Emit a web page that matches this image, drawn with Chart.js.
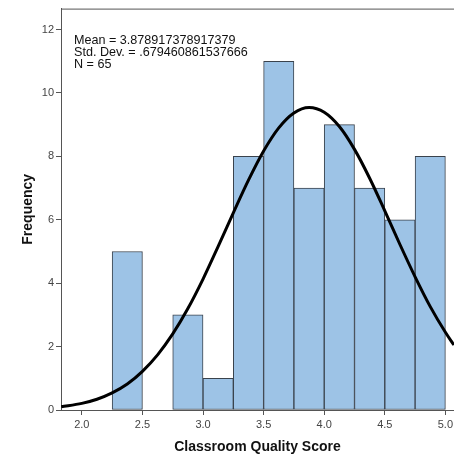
<!DOCTYPE html>
<html>
<head>
<meta charset="utf-8">
<script src="https://cdn.jsdelivr.net/npm/chart.js@4/dist/chart.umd.min.js"></script>
<style>
  html, body { margin: 0; padding: 0; background: #fff; }
  #wrap { width: 454px; height: 456px; }
</style>
</head>
<body>
<div id="wrap"><canvas id="hist" width="454" height="456"></canvas></div>
<script>
// Histograma - classes de 0.25
const binMids = [2.375, 2.625, 2.875, 3.125, 3.375, 3.625, 3.875, 4.125, 4.375, 4.625, 4.875];
const counts = [5, 0, 3, 1, 8, 11, 7, 9, 7, 6, 8];

// Curva normal
const curveX = [1.83, 2.0, 2.125, 2.25, 2.375, 2.5, 2.625, 2.75, 2.875, 3.0, 3.125, 3.25, 3.375, 3.5,
  3.625, 3.75, 3.875, 4.0, 4.125, 4.25, 4.375, 4.5, 4.625, 4.75, 4.875, 5.0, 5.07];
const curveY = [0.10, 0.21, 0.34, 0.54, 0.82, 1.22, 1.74, 2.40, 3.20, 4.13, 5.16, 6.22, 7.25, 8.17,
  8.90, 9.37, 9.54, 9.39, 8.94, 8.22, 7.31, 6.28, 5.22, 4.20, 3.26, 2.45, 2.05];

const xTicks = [2.0, 2.5, 3.0, 3.5, 4.0, 4.5, 5.0];
const yTicks = [0, 2, 4, 6, 8, 10, 12];

const statsLines = ["Mean = 3.878917378917379", "Std. Dev. = .679460861537666", "N = 65"];

const axisColor = "#555";

// Moldura superior + texto das estatísticas
const extras = {
  id: "extras",
  afterDraw(chart) {
    const { ctx, chartArea } = chart;
    ctx.save();
    ctx.strokeStyle = axisColor;
    ctx.lineWidth = 1;
    ctx.beginPath();
    ctx.moveTo(chartArea.left, chartArea.top + 0.5);
    ctx.lineTo(454, chartArea.top + 0.5);
    ctx.stroke();

    ctx.fillStyle = "#111";
    ctx.font = "12.6px 'Liberation Sans', Arial, sans-serif";
    ctx.textBaseline = "alphabetic";
    statsLines.forEach((t, i) => ctx.fillText(t, 74, 43.5 + i * 12.3));
    ctx.restore();
  },
};

const ctx = document.getElementById("hist").getContext("2d");
const histChart = new Chart(ctx, {
  data: {
    datasets: [
      {
        type: "line",
        data: curveX.map((x, i) => ({ x: x, y: curveY[i] })),
        borderColor: "#000",
        borderWidth: 3,
        pointRadius: 0,
        cubicInterpolationMode: "monotone",
        order: 0,
      },
      {
        type: "bar",
        data: binMids.map((x, i) => ({ x: x, y: counts[i] })),
        backgroundColor: "#9dc3e6",
        borderColor: "#3a424c",
        borderWidth: 1,
        borderSkipped: false,
        categoryPercentage: 1,
        barPercentage: 1,
        grouped: false,
        order: 1,
      },
    ],
  },
  options: {
    responsive: false,
    animation: false,
    devicePixelRatio: 1,
    layout: { padding: { top: 8, right: 0, left: 0, bottom: 0 } },
    plugins: { legend: { display: false }, tooltip: { enabled: false } },
    scales: {
      x: {
        type: "linear",
        min: 1.828,
        max: 5.071,
        offset: false,
        afterBuildTicks: (scale) => {
          scale.ticks = xTicks.map((v) => ({ value: v }));
        },
        afterFit: (scale) => {
          scale.height = 46;
          scale.paddingRight = 0;
        },
        ticks: {
          callback: (v) => Number(v).toFixed(1),
          color: "#444",
          font: { size: 11, family: "'Liberation Sans', Arial, sans-serif" },
          padding: 3,
          maxRotation: 0,
        },
        grid: { drawOnChartArea: false, tickLength: 5, color: axisColor, offset: false },
        border: { color: axisColor, width: 1 },
        title: {
          display: true,
          text: "Classroom Quality Score",
          color: "#111",
          font: { size: 14, weight: "bold", family: "'Liberation Sans', Arial, sans-serif" },
          padding: { top: 0, bottom: 0 },
        },
      },
      y: {
        min: 0,
        max: 12.66,
        afterBuildTicks: (scale) => {
          scale.ticks = yTicks.map((v) => ({ value: v }));
        },
        afterFit: (scale) => {
          scale.width = 61;
        },
        ticks: {
          color: "#444",
          font: { size: 11, family: "'Liberation Sans', Arial, sans-serif" },
          padding: 2,
        },
        grid: { drawOnChartArea: false, tickLength: 5, color: axisColor },
        border: { color: axisColor, width: 1 },
        title: {
          display: true,
          text: "Frequency",
          color: "#111",
          font: { size: 14, weight: "bold", family: "'Liberation Sans', Arial, sans-serif" },
          padding: { top: 20, bottom: 0 },
        },
      },
    },
  },
  plugins: [extras],
});
</script>
</body>
</html>
